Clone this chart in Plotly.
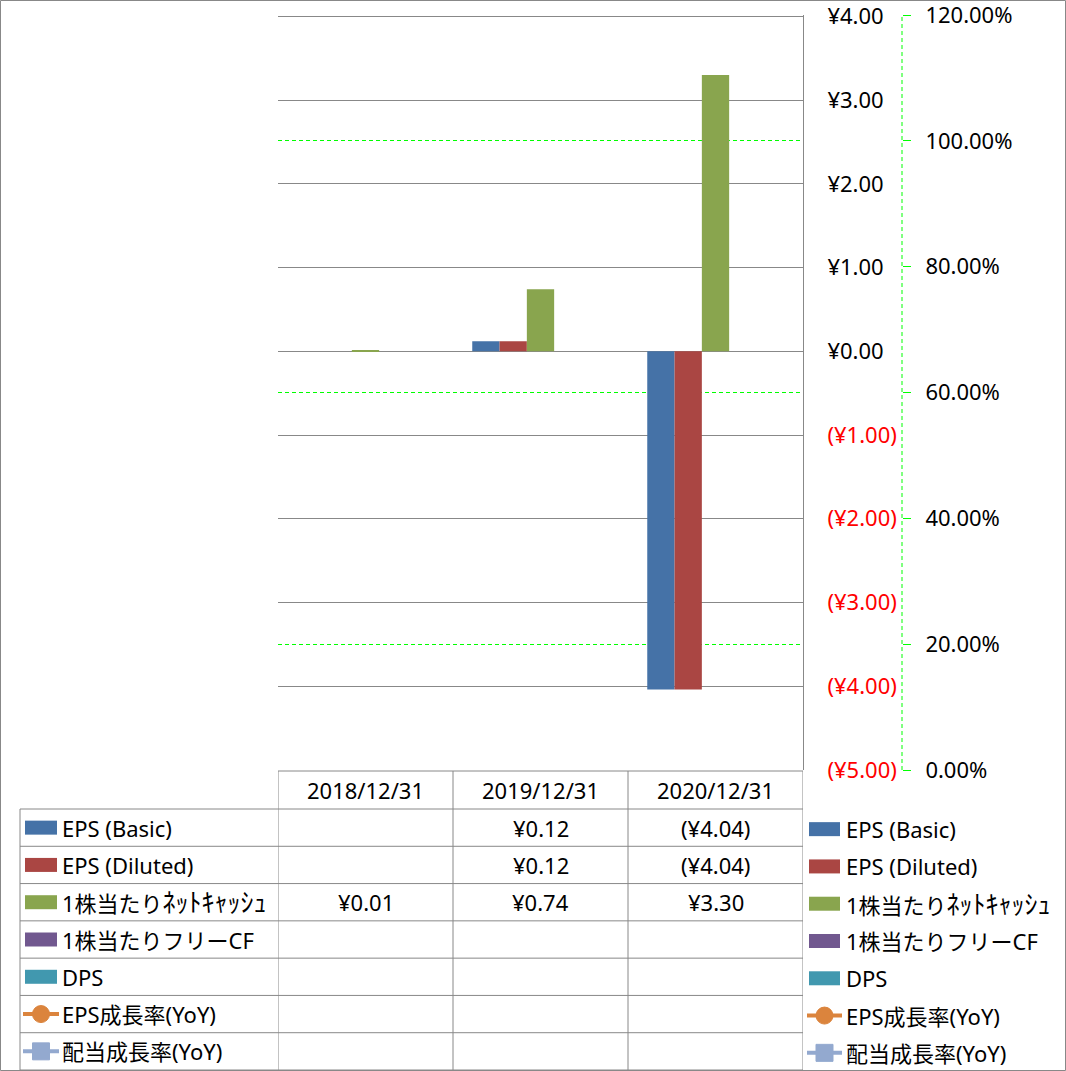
import re
import plotly.graph_objects as go

# ---------------- data ----------------
categories = ["2018/12/31", "2019/12/31", "2020/12/31"]
eps_basic = [None, 0.12, -4.04]
eps_diluted = [None, 0.12, -4.04]
net_cash_ps = [0.01, 0.74, 3.30]
fcf_ps = [None, None, None]
dps = [None, None, None]
eps_growth = [None, None, None]
div_growth = [None, None, None]

bar_names = ["EPS (Basic)", "EPS (Diluted)", "1株当たりﾈｯﾄｷｬｯｼｭ", "1株当たりフリーCF", "DPS"]
line_names = ["EPS成長率(YoY)", "配当成長率(YoY)"]
bar_series = [eps_basic, eps_diluted, net_cash_ps, fcf_ps, dps]
line_series = [eps_growth, div_growth]

yen_ticks = [-5, -4, -3, -2, -1, 0, 1, 2, 3, 4]
pct_ticks = [0, 0.2, 0.4, 0.6, 0.8, 1.0, 1.2]
pct_grid = [0.2, 0.6, 1.0]

# ---------------- style ----------------
bar_colors = ["#4572A7", "#AA4643", "#89A54E", "#71588F", "#4198AF"]
line_colors = ["#DB843D", "#93A9CF"]
GRAY = "#888888"
GREEN = "#00FF00"
FONT = "Noto Sans, Noto Sans CJK JP, sans-serif"
FS = 22

W, H = 1066, 1071
L, R, T, B = 278, 100, 15, 301
PW, PH = W - L - R, H - T - B


def px(x):
    return (x - L) / PW


def py(y):
    return (H - B - y) / PH


def yen(v):
    return f"¥{v:.2f}" if v >= 0 else f"(¥{-v:.2f})"


def label(s):
    # half-width katakana look small in the fallback font; render them a bit larger
    return re.sub(r"([\uff61-\uff9f]+)", r'<span style="font-size:26px">\1</span>', s)


yen_text = [yen(v) if v >= 0 else f'<span style="color:#FF0000">{yen(v)}</span>' for v in yen_ticks]

fig = go.Figure()
for name, vals, col in zip(bar_names, bar_series, bar_colors):
    fig.add_trace(go.Bar(x=categories, y=vals, name=name, marker=dict(color=col, line=dict(width=0)),
                         showlegend=False, yaxis="y"))
for name, vals, col in zip(line_names, line_series, line_colors):
    fig.add_trace(go.Scatter(x=categories, y=vals, name=name, mode="lines+markers",
                             line=dict(color=col, width=4), showlegend=False, yaxis="y2"))
fig.add_trace(go.Scatter(x=categories, y=[None] * 3, yaxis="y3", showlegend=False, hoverinfo="skip"))

shapes = []
ann = []

# outer border
shapes.append(dict(type="rect", xref="paper", yref="paper", x0=px(0.5), x1=px(W - 0.5),
                   y0=py(0.5), y1=py(H - 0.5), line=dict(color=GRAY, width=1)))
# secondary axis dashed line
ax2x = px(902)
shapes.append(dict(type="line", xref="paper", yref="paper", x0=ax2x, x1=ax2x, y0=0, y1=1,
                   line=dict(color=GREEN, width=1, dash="4px,3px")))

# data table
row_edges = [809 + i * (1070 - 809) / 7 for i in range(8)]
col_edges = [-0.5 + i for i in range(len(categories) + 1)]
shapes.append(dict(type="line", xref="x", yref="paper", x0=col_edges[0], x1=col_edges[-1],
                   y0=py(771), y1=py(771), line=dict(color=GRAY, width=1)))
for ry in row_edges:
    shapes.append(dict(type="line", xref="paper", yref="paper", x0=px(20), x1=px(803),
                       y0=py(ry), y1=py(ry), line=dict(color=GRAY, width=1)))
for cx in col_edges:
    shapes.append(dict(type="line", xref="x", yref="paper", x0=cx, x1=cx,
                       y0=py(771), y1=py(1070), line=dict(color=GRAY, width=1)))
shapes.append(dict(type="line", xref="paper", yref="paper", x0=px(20), x1=px(20),
                   y0=py(809), y1=py(1070), line=dict(color=GRAY, width=1)))

for c in categories:
    ann.append(dict(x=c, xref="x", y=py(790), yref="paper", text=c, showarrow=False,
                    font=dict(size=FS, color="black", family=FONT), xanchor="center", yanchor="middle"))

row_centers = [(row_edges[i] + row_edges[i + 1]) / 2 for i in range(7)]
all_names = bar_names + line_names


def key(xl, xr, yc, idx):
    if idx < len(bar_names):
        shapes.append(dict(type="rect", xref="paper", yref="paper", x0=px(xl), x1=px(xr),
                           y0=py(yc - 7), y1=py(yc + 7), fillcolor=bar_colors[idx], line=dict(width=0)))
    else:
        col = line_colors[idx - len(bar_names)]
        cxm = (xl + xr) / 2
        shapes.append(dict(type="line", xref="paper", yref="paper", x0=px(xl - 2), x1=px(xr + 2),
                           y0=py(yc), y1=py(yc), line=dict(color=col, width=4)))
        r = 8.5
        shp = "circle" if idx == len(bar_names) else "rect"
        shapes.append(dict(type=shp, xref="paper", yref="paper", x0=px(cxm - r), x1=px(cxm + r),
                           y0=py(yc + r), y1=py(yc - r), fillcolor=col, line=dict(color=col, width=1)))


for i, name in enumerate(all_names):
    yc = row_centers[i]
    key(25, 57, yc, i)
    ann.append(dict(x=px(60), xref="paper", y=py(yc), yref="paper", text=label(name), showarrow=False,
                    font=dict(size=FS, color="black", family=FONT), xanchor="left", yanchor="middle"))
    key(809, 840, yc + 1.5, i)
    ann.append(dict(x=px(844), xref="paper", y=py(yc + 1.5), yref="paper", text=label(name), showarrow=False,
                    font=dict(size=FS, color="black", family=FONT), xanchor="left", yanchor="middle"))
    if i < len(bar_names):
        for c, v in zip(categories, bar_series[i]):
            if v is not None:
                ann.append(dict(x=c, xref="x", y=py(yc), yref="paper", text=yen(v), showarrow=False,
                                font=dict(size=FS, color="black", family=FONT), xanchor="center",
                                yanchor="middle"))

fig.update_layout(
    template="none",
    width=W, height=H, autosize=False,
    margin=dict(l=L, r=R, t=T, b=B, pad=0, autoexpand=False),
    paper_bgcolor="white", plot_bgcolor="white",
    barmode="group", bargap=0.22, bargroupgap=0,
    font=dict(family=FONT, size=FS, color="black"),
    xaxis=dict(domain=[0, px(803)], range=[-0.5, 2.5], showgrid=False, showticklabels=False,
               ticks="", showline=False, zeroline=False, type="category", automargin=False),
    yaxis=dict(side="right", range=[-5, 4.016], tickvals=yen_ticks, ticktext=yen_text,
               showgrid=True, gridcolor=GRAY, gridwidth=1, zeroline=False, automargin=False,
               showline=True, linecolor=GRAY, linewidth=1, ticks="", ticklabelstandoff=19,
               ticklabeloverflow="allow",
               tickfont=dict(size=FS, color="black", family=FONT)),
    yaxis2=dict(overlaying="y", anchor="free", position=ax2x, side="right", range=[0, 1.2],
                tickvals=pct_ticks, tickformat=".2%", showgrid=False, zeroline=False, showline=False,
                ticks="outside", ticklen=8, tickcolor=GREEN, tickwidth=1, ticklabelstandoff=10,
                ticklabeloverflow="allow",
                automargin=False, tickfont=dict(size=FS, color="black", family=FONT)),
    yaxis3=dict(overlaying="y", range=[0, 1.2], tickvals=pct_grid, showgrid=True, gridcolor=GREEN,
                griddash="4px,3px", gridwidth=1, showticklabels=False, ticks="", zeroline=False,
                showline=False, side="right", automargin=False),
    shapes=shapes, annotations=ann,
)

fig.write_html("out.html", config={"displayModeBar": False},
               post_script="document.body.style.margin='0';document.body.style.overflow='hidden';")
